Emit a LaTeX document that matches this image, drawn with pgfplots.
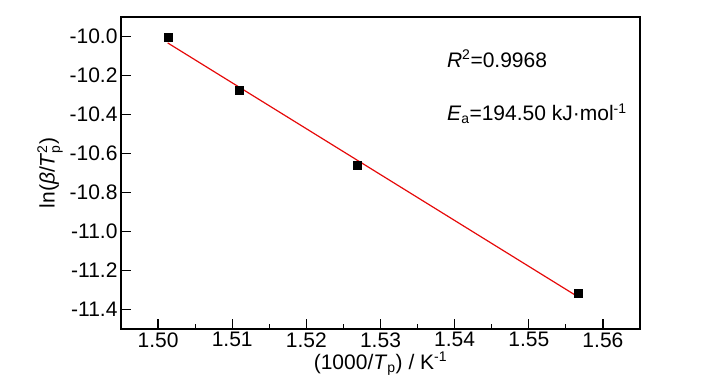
\documentclass[border=0pt]{standalone}
\usepackage{fontspec}
\setmainfont{Liberation Sans}
\usepackage{pgfplots}
\pgfplotsset{compat=1.18}
\definecolor{fitred}{RGB}{230,10,10}
\newcommand{\scr}[1]{\mbox{\fontsize{14}{15}\selectfont #1}}
\begin{document}
\begin{tikzpicture}[font=\fontsize{21}{25}\selectfont]
\path[use as bounding box] (0,0) rectangle (727pt,390pt);
\begin{axis}[
  at={(121pt,61pt)}, anchor=south west,
  scale only axis, width=519pt, height=312pt,
  xmin=1.495, xmax=1.565, ymin=-11.5, ymax=-9.9,
  xtick={1.50,1.51,1.52,1.53,1.54,1.55,1.56},
  minor xtick={1.505,1.515,1.525,1.535,1.545,1.555},
  ytick={-11.4,-11.2,-11.0,-10.8,-10.6,-10.4,-10.2,-10.0},
  xtick pos=bottom, ytick pos=left,
  tick align=inside,
  major tick length=10pt, minor tick length=5pt,
  axis line style={line width=1.3pt},
  every tick/.style={line width=1.2pt, black},
  /pgf/number format/assume math mode=true,
  xticklabel style={/pgf/number format/.cd, fixed, fixed zerofill, precision=2},
  yticklabel style={/pgf/number format/.cd, fixed, fixed zerofill, precision=1},
  scaled x ticks=false, scaled y ticks=false,
  xlabel={(1000/\textit{T}$_{\scr{p}}$) / K$^{\scr{-1}}$},
  ylabel={ln(\textit{β}/\textit{T}$_{\scr{p}}^{\scr{2}}$)},
  xlabel style={yshift=2pt},
  clip=false,
]
\addplot[fitred, line width=1.2pt] coordinates {(1.5013,-10.033) (1.5566,-11.334)};
\addplot[only marks, mark=square*, mark size=4pt, black] coordinates {
  (1.5013,-10.005) (1.5110,-10.277) (1.5269,-10.662) (1.5566,-11.318)};
\node[anchor=base west] at (axis cs:1.5385,-10.159) {\textit{R}$^{\scr{2}}$=0.9968};
\node[anchor=base west] at (axis cs:1.5385,-10.431) {\textit{E}$_{\scr{a}}$=194.50 kJ·mol$^{\scr{-1}}$};
\end{axis}
\end{tikzpicture}
\end{document}
